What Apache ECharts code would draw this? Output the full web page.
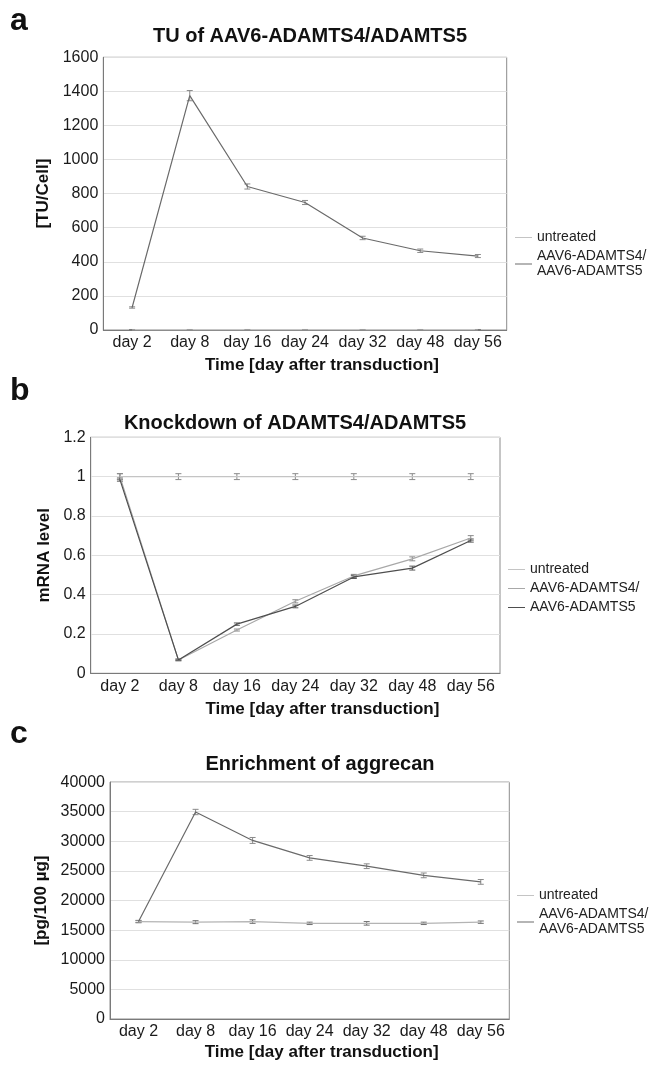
<!DOCTYPE html>
<html>
<head>
<meta charset="utf-8">
<script src="https://cdn.jsdelivr.net/npm/echarts@6/dist/echarts.min.js"></script>
<style>
  html, body { margin: 0; padding: 0; background: #fff; }
  #main { width: 667px; height: 1065px; }
</style>
</head>
<body>
<div id="main"></div>
<script>
var days = ['day 2', 'day 8', 'day 16', 'day 24', 'day 32', 'day 48', 'day 56'];

// a: TU of AAV6-ADAMTS4/ADAMTS5
var tuUntreated = [0, 0, 0, 0, 0, 0, 0];
var tuUntreatedErr = [3, 3, 3, 3, 3, 3, 3];
var tuTreated = [132, 1375, 842, 748, 540, 465, 434];
var tuTreatedErr = [4, 30, 15, 12, 10, 10, 9];

// b: knockdown (mRNA level)
var mrnaUntreated = [1, 1, 1, 1, 1, 1, 1];
var mrnaUntreatedErr = [0.015, 0.015, 0.015, 0.015, 0.015, 0.015, 0.015];
var mrnaAdamts4 = [1.0, 0.068, 0.22, 0.366, 0.495, 0.582, 0.688];
var mrnaAdamts4Err = [0.015, 0.004, 0.005, 0.008, 0.008, 0.01, 0.012];
var mrnaAdamts5 = [0.985, 0.068, 0.25, 0.34, 0.49, 0.535, 0.675];
var mrnaAdamts5Err = [0.008, 0.004, 0.006, 0.007, 0.008, 0.01, 0.008];

// c: aggrecan (pg/100 µg)
var aggUntreated = [16450, 16350, 16450, 16150, 16150, 16150, 16350];
var aggUntreatedErr = [200, 250, 300, 200, 300, 200, 200];
var aggTreated = [16450, 34950, 30150, 27200, 25800, 24250, 23150];
var aggTreatedErr = [150, 450, 500, 400, 400, 400, 400];

var FONT = 'Liberation Sans, Arial, sans-serif';
var LIGHT = '#c4c4c4';
var MID = '#a8a8a8';
var DARK = '#6a6a6a';
var DARKER = '#4e4e4e';

function errSeries(name, idx, vals, errs, color) {
  return {
    type: 'custom',
    name: name,
    xAxisIndex: idx,
    yAxisIndex: idx,
    z: 3,
    encode: { x: 0, y: [1, 2] },
    data: vals.map(function (v, i) { return [i, v - errs[i], v + errs[i]]; }),
    renderItem: function (params, api) {
      var lo = api.coord([api.value(0), api.value(1)]);
      var hi = api.coord([api.value(0), api.value(2)]);
      var st = { stroke: color, lineWidth: 1 };
      var w = 3;
      return {
        type: 'group',
        children: [
          { type: 'line', shape: { x1: lo[0], y1: lo[1], x2: hi[0], y2: hi[1] }, style: st },
          { type: 'line', shape: { x1: lo[0] - w, y1: lo[1], x2: lo[0] + w, y2: lo[1] }, style: st },
          { type: 'line', shape: { x1: hi[0] - w, y1: hi[1], x2: hi[0] + w, y2: hi[1] }, style: st }
        ]
      };
    }
  };
}

function lineSeries(name, idx, vals, color, width) {
  return {
    type: 'line',
    name: name,
    xAxisIndex: idx,
    yAxisIndex: idx,
    data: vals,
    color: color,
    showSymbol: false,
    symbol: 'none',
    z: 4,
    lineStyle: { color: color, width: width || 1.2 },
    itemStyle: { color: color }
  };
}

function xAx(idx, nameGap, shift) {
  return {
    type: 'category',
    gridIndex: idx,
    data: days,
    boundaryGap: true,
    axisTick: { show: false },
    axisLine: { lineStyle: { color: '#7a7a7a', width: 1 } },
    axisLabel: { color: '#1a1a1a', fontSize: 16, fontFamily: FONT, margin: 5, interval: 0 },
    name: 'Time [day after transduction]',
    nameLocation: 'middle',
    nameGap: nameGap,
    nameTextStyle: { color: '#111', fontSize: 17, fontWeight: 'bold', fontFamily: FONT, padding: [0, 0, 0, shift] }
  };
}

function yAx(idx, name, min, max, interval, nameGap) {
  return {
    type: 'value',
    gridIndex: idx,
    min: min,
    max: max,
    interval: interval,
    axisLine: { show: true, lineStyle: { color: '#7a7a7a', width: 1 } },
    axisTick: { show: false },
    splitLine: { lineStyle: { color: '#e0e0e0', width: 1.2 } },
    axisLabel: {
      color: '#1a1a1a', fontSize: 16, fontFamily: FONT, margin: 5,
      formatter: function (v) { return String(+v.toFixed(2)); }
    },
    name: name,
    nameLocation: 'middle',
    nameGap: nameGap,
    nameTextStyle: { color: '#111', fontSize: 17, fontWeight: 'bold', fontFamily: FONT }
  };
}

function legend(top, left, items) {
  return {
    orient: 'vertical',
    left: left,
    top: top,
    padding: 0,
    icon: 'rect',
    itemWidth: 17,
    itemHeight: 1,
    itemGap: 4,
    selectedMode: false,
    textStyle: { color: '#222', fontSize: 14, fontFamily: FONT, lineHeight: 15 },
    data: items
  };
}

function panelTitle(text, x, top) {
  return {
    text: text, left: x, top: top, textAlign: 'center', padding: 0,
    textStyle: { fontSize: 20, fontWeight: 'bold', color: '#111', fontFamily: FONT }
  };
}

function letter(text, top) {
  return {
    text: text, left: 10, top: top, padding: 0,
    textStyle: { fontSize: 32, fontWeight: 'bold', color: '#111', fontFamily: FONT }
  };
}

var treatedName = 'AAV6-ADAMTS4/\nAAV6-ADAMTS5';

var chart = echarts.init(document.getElementById('main'));
chart.setOption({
  animation: false,
  textStyle: { fontFamily: FONT },
  title: [
    letter('a', 5),
    letter('b', 375),
    letter('c', 718),
    panelTitle('TU of AAV6-ADAMTS4/ADAMTS5', 310, 26),
    panelTitle('Knockdown of ADAMTS4/ADAMTS5', 295, 413),
    panelTitle('Enrichment of aggrecan', 320, 754)
  ],
  legend: [
    legend(230, 515, [
      { name: 'untreated', itemStyle: { color: LIGHT } },
      { name: treatedName, itemStyle: { color: DARK } }
    ]),
    legend(562, 508, [
      { name: 'untreated ', itemStyle: { color: LIGHT } },
      { name: 'AAV6-ADAMTS4/', itemStyle: { color: MID } },
      { name: 'AAV6-ADAMTS5', itemStyle: { color: DARKER } }
    ]),
    legend(888, 517, [
      { name: 'untreated  ', itemStyle: { color: LIGHT } },
      { name: treatedName + ' ', itemStyle: { color: DARK } }
    ])
  ],
  grid: [
    { left: 103.3, top: 57.3, width: 403.4, height: 272.7, show: true, borderColor: '#8c8c8c', borderWidth: 1, backgroundColor: '#fff' },
    { left: 90.7, top: 437.3, width: 409.3, height: 236, show: true, borderColor: '#8c8c8c', borderWidth: 1, backgroundColor: '#fff' },
    { left: 110, top: 782.1, width: 399.3, height: 236.9, show: true, borderColor: '#8c8c8c', borderWidth: 1, backgroundColor: '#fff' }
  ],
  xAxis: [
    xAx(0, 27, 34),
    xAx(1, 28, 54),
    xAx(2, 25, 24)
  ],
  yAxis: [
    yAx(0, '[TU/Cell]', 0, 1600, 200, 45),
    yAx(1, 'mRNA level', 0, 1.2, 0.2, 28),
    yAx(2, '[pg/100 µg]', 0, 40000, 5000, 56)
  ],
  series: [
    lineSeries('untreated', 0, tuUntreated, LIGHT),
    lineSeries(treatedName, 0, tuTreated, DARK),
    errSeries('err-a-u', 0, tuUntreated, tuUntreatedErr, '#777'),
    errSeries('err-a-t', 0, tuTreated, tuTreatedErr, '#8a8a8a'),

    lineSeries('untreated ', 1, mrnaUntreated, LIGHT),
    lineSeries('AAV6-ADAMTS4/', 1, mrnaAdamts4, MID),
    lineSeries('AAV6-ADAMTS5', 1, mrnaAdamts5, DARKER),
    errSeries('err-b-u', 1, mrnaUntreated, mrnaUntreatedErr, '#8a8a8a'),
    errSeries('err-b-4', 1, mrnaAdamts4, mrnaAdamts4Err, '#8a8a8a'),
    errSeries('err-b-5', 1, mrnaAdamts5, mrnaAdamts5Err, '#5a5a5a'),

    lineSeries('untreated  ', 2, aggUntreated, '#b4b4b4'),
    lineSeries(treatedName + ' ', 2, aggTreated, DARK),
    errSeries('err-c-u', 2, aggUntreated, aggUntreatedErr, '#707070'),
    errSeries('err-c-t', 2, aggTreated, aggTreatedErr, '#8a8a8a')
  ]
});
</script>
</body>
</html>
